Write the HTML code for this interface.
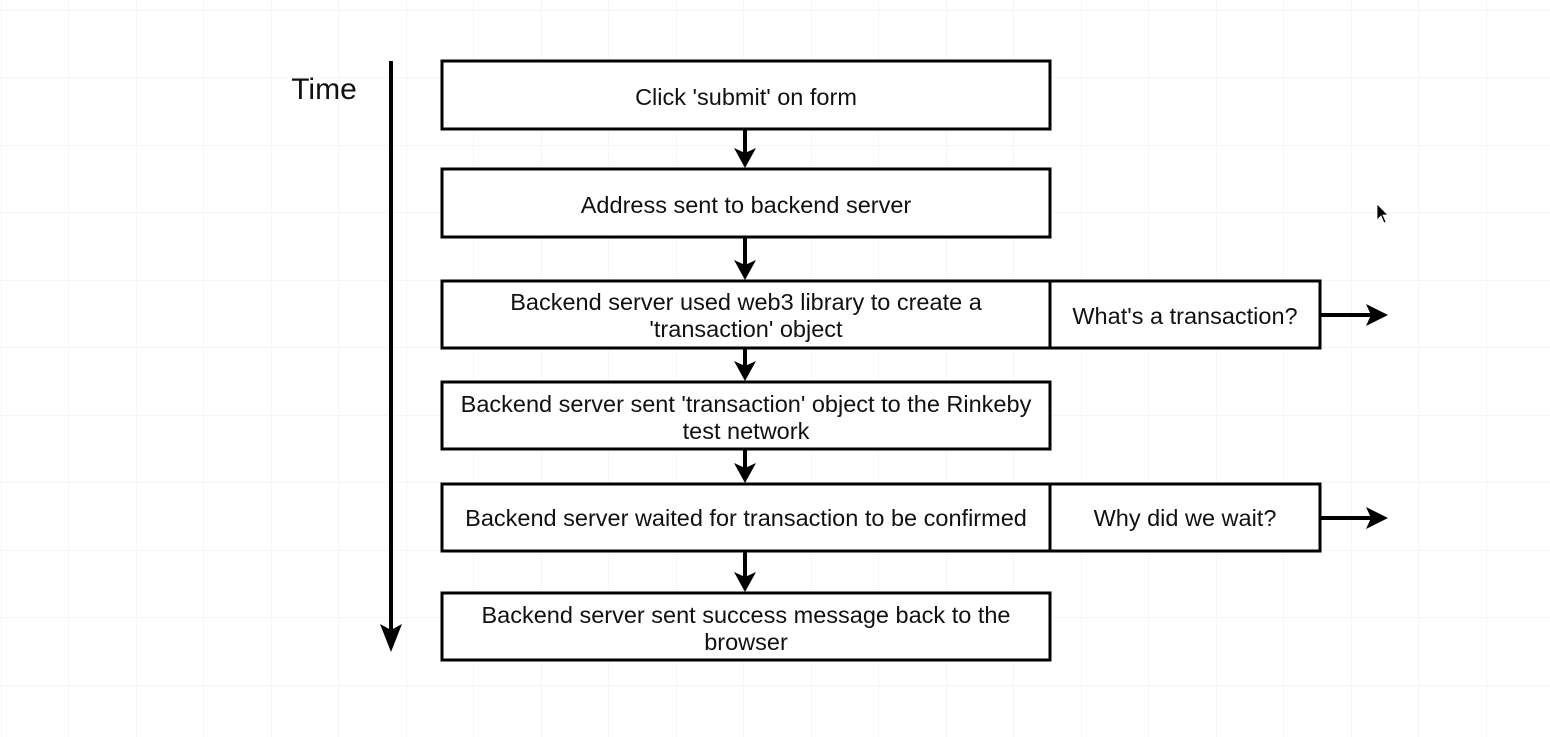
<!DOCTYPE html>
<html><head><style>
body{margin:0;background:#fff;}
svg{display:block;}
text{font-family:"Liberation Sans",Arial,sans-serif;font-size:23.5px;fill:#111;text-anchor:middle;}
</style></head><body>
<svg width="1550" height="737" xmlns="http://www.w3.org/2000/svg">
<defs>
<pattern id="g" width="67.5" height="67.5" patternUnits="userSpaceOnUse" x="1" y="10">
<path d="M0 0H67.5M0 0V67.5" stroke="#ececec" stroke-width="1" fill="none"/>
</pattern>
</defs>
<rect width="1550" height="737" fill="url(#g)"/>
<g stroke="#000" stroke-width="3" fill="#fff">
<rect x="442" y="61" width="608" height="68"/>
<rect x="442" y="169" width="608" height="68"/>
<rect x="442" y="281" width="608" height="67"/>
<rect x="1050" y="281" width="270" height="67"/>
<rect x="442" y="382" width="608" height="67"/>
<rect x="442" y="484" width="608" height="67"/>
<rect x="1050" y="484" width="270" height="67"/>
<rect x="442" y="593" width="608" height="67"/>
</g>
<g stroke="#000" stroke-width="4" fill="#000">
<line x1="391" y1="61" x2="391" y2="630"/>
<path d="M380 624 L391 652 L402 624 L391 630 Z" stroke="none"/>
<line x1="745" y1="129" x2="745" y2="155"/><path d="M734 148 L745 168 L756 148 L745 153 Z" stroke="none"/>
<line x1="745" y1="237" x2="745" y2="267"/><path d="M734 260 L745 280 L756 260 L745 265 Z" stroke="none"/>
<line x1="745" y1="348" x2="745" y2="368"/><path d="M734 361 L745 381 L756 361 L745 366 Z" stroke="none"/>
<line x1="745" y1="449" x2="745" y2="470"/><path d="M734 463 L745 483 L756 463 L745 468 Z" stroke="none"/>
<line x1="745" y1="551" x2="745" y2="579"/><path d="M734 572 L745 592 L756 572 L745 577 Z" stroke="none"/>
<line x1="1320" y1="315" x2="1372" y2="315"/><path d="M1366 304 L1388 315 L1366 326 L1371 315 Z" stroke="none"/>
<line x1="1320" y1="518" x2="1372" y2="518"/><path d="M1366 507 L1388 518 L1366 529 L1371 518 Z" stroke="none"/>
</g>
<text x="324" y="99" style="font-size:30px">Time</text>
<text x="746" y="105">Click 'submit' on form</text>
<text x="746" y="213">Address sent to backend server</text>
<text x="746" y="310">Backend server used web3 library to create a</text>
<text x="746" y="337">'transaction' object</text>
<text x="1185" y="324">What's a transaction?</text>
<text x="746" y="412">Backend server sent 'transaction' object to the Rinkeby</text>
<text x="746" y="439">test network</text>
<text x="746" y="526">Backend server waited for transaction to be confirmed</text>
<text x="1185" y="526">Why did we wait?</text>
<text x="746" y="623">Backend server sent success message back to the</text>
<text x="746" y="650">browser</text>
<path d="M1377 204 L1377 220 L1381 216 L1384 223 L1386 222 L1383 215 L1388 215 Z" fill="#000" stroke="#fff" stroke-width="0.8"/>
</svg>
</body></html>
